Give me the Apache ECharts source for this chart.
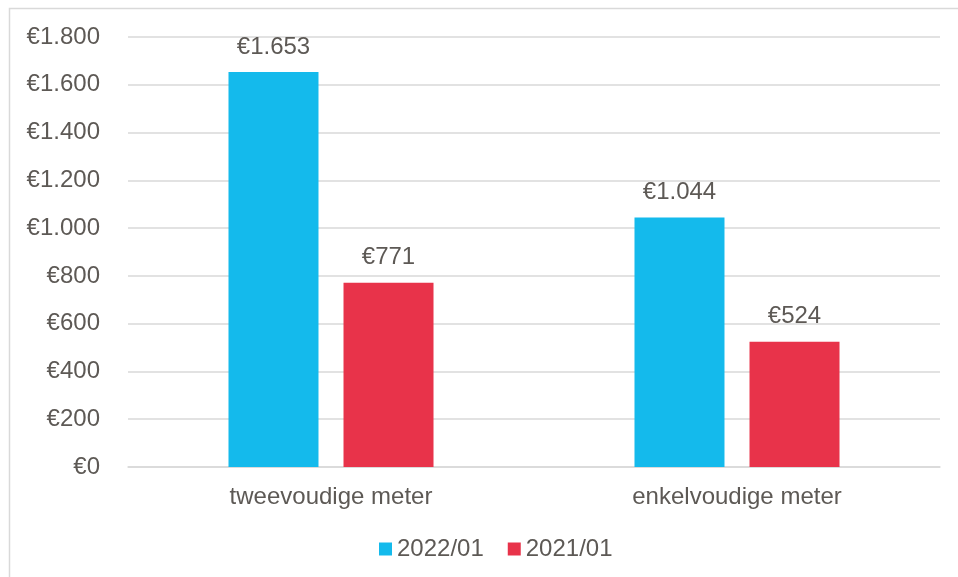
<!DOCTYPE html>
<html>
<head>
<meta charset="utf-8">
<script src="https://cdn.jsdelivr.net/npm/echarts@6/dist/echarts.min.js"></script>
<style>
  html, body { margin: 0; padding: 0; background: #fff; }
  #chart { width: 958px; height: 577px; }
</style>
</head>
<body>
<div id="chart"></div>
<script>
// Meter categories and yearly costs (euro)
const categories = ['tweevoudige meter', 'enkelvoudige meter'];
const seriesNames = ['2022/01', '2021/01'];
const values2022 = [1653, 1044];
const values2021 = [771, 524];
const yTicks = { min: 0, max: 1800, interval: 200 };

const textColor = '#5d5955';
const fontFamily = '"Liberation Sans", Arial, sans-serif';

// Dutch-style euro formatting: € with '.' as thousands separator
function euro(v) {
  const s = String(Math.round(v));
  return '€' + s.replace(/\B(?=(\d{3})+(?!\d))/g, '.');
}

const chart = echarts.init(document.getElementById('chart'), null, { renderer: 'canvas' });

const labelCfg = {
  show: true,
  position: 'top',
  distance: 13,
  color: textColor,
  fontSize: 24,
  fontFamily: fontFamily,
  formatter: p => euro(p.value)
};

chart.setOption({
  animation: false,
  backgroundColor: '#ffffff',
  textStyle: { fontFamily: fontFamily },
  graphic: [{
    type: 'rect',
    shape: { x: 9.5, y: 8.5, width: 1200, height: 1200 },
    style: { fill: 'none', stroke: '#d9d9d9', lineWidth: 1.5 },
    silent: true,
    z: -10
  }],
  grid: { left: 128, right: 18, top: 37, bottom: 110, containLabel: false },
  legend: {
    data: seriesNames,
    bottom: 11,
    left: 374,
    icon: 'rect',
    itemWidth: 13,
    itemHeight: 13,
    itemGap: 24,
    textStyle: { color: textColor, fontSize: 24, fontFamily: fontFamily }
  },
  xAxis: {
    type: 'category',
    data: categories,
    axisLine: { show: true, lineStyle: { color: '#d9d9d9', width: 1.5 } },
    axisTick: { show: false },
    axisLabel: { color: textColor, fontSize: 24, fontFamily: fontFamily, margin: 18 }
  },
  yAxis: {
    type: 'value',
    min: yTicks.min,
    max: yTicks.max,
    interval: yTicks.interval,
    axisLine: { show: false },
    axisTick: { show: false },
    axisLabel: { color: textColor, fontSize: 24, fontFamily: fontFamily, margin: 28, formatter: v => euro(v) },
    splitLine: { lineStyle: { color: '#d9d9d9', width: 1.5 } }
  },
  series: [
    {
      name: seriesNames[0],
      type: 'bar',
      data: values2022,
      barWidth: 90,
      barGap: '27.8%',
      itemStyle: { color: '#14BAEC' },
      label: labelCfg
    },
    {
      name: seriesNames[1],
      type: 'bar',
      data: values2021,
      barWidth: 90,
      barGap: '27.8%',
      itemStyle: { color: '#E8334A' },
      label: labelCfg
    }
  ]
});
</script>
</body>
</html>
